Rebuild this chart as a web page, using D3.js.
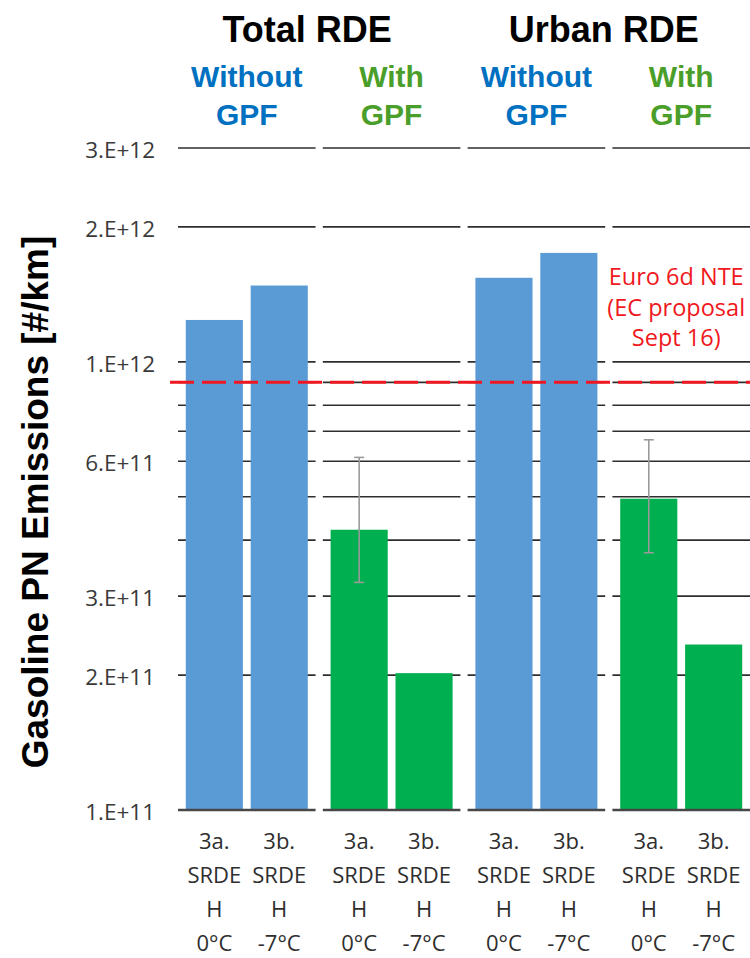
<!DOCTYPE html>
<html>
<head>
<meta charset="utf-8">
<script src="https://cdn.jsdelivr.net/npm/d3@7"></script>
<style>
  html, body { margin: 0; padding: 0; background: #fff; }
  svg { display: block; }
</style>
</head>
<body>
<div id="chart"></div>
<script>
// Gasoline PN emissions on RDE cycles, with and without a GPF
const panels = ["Total RDE|Without GPF", "Total RDE|With GPF", "Urban RDE|Without GPF", "Urban RDE|With GPF"];
const groups = ["Total RDE", "Urban RDE"];
const filterLabels = ["Without GPF", "With GPF", "Without GPF", "With GPF"];
const tests = ["3a", "3b"];
const testLabels = [["3a.", "SRDE", "H", "0°C"], ["3b.", "SRDE", "H", "-7°C"]];

// PN emissions [#/km] per panel, tests 3a and 3b
const totalNoGpf = [1.24e12, 1.48e12];
const totalGpf = [4.22e11, 2.02e11];
const urbanNoGpf = [1.54e12, 1.75e12];
const urbanGpf = [4.95e11, 2.34e11];
const panelValues = [totalNoGpf, totalGpf, urbanNoGpf, urbanGpf];

// Error ranges for test 3a with GPF [low, high]
const totalGpfErr = [3.22e11, 6.12e11];
const urbanGpfErr = [3.75e11, 6.70e11];
const panelErrors = [null, totalGpfErr, null, urbanGpfErr];

// Euro 6d NTE limit (EC proposal Sept 16)
const limitValue = 9e11;
const limitLines = ["Euro 6d NTE", "(EC proposal", "Sept 16)"];

// Axis ticks and gridlines
const tickValues = [1e11, 2e11, 3e11, 6e11, 1e12, 2e12, 3e12];
const tickLabels = ["1.E+11", "2.E+11", "3.E+11", "6.E+11", "1.E+12", "2.E+12", "3.E+12"];
const gridValues = [2e11, 3e11, 4e11, 5e11, 6e11, 7e11, 8e11, 9e11, 1e12, 2e12, 3e12];

const W = 750, H = 958;
const blue = "#5b9bd5", green = "#00b050";
const headBlue = "#0070c0", headGreen = "#4a9e2a";
const red = "#f01820";

const svg = d3.select("#chart").append("svg").attr("width", W).attr("height", H);
svg.append("rect").attr("width", W).attr("height", H).attr("fill", "#fff");

const y = d3.scaleLog().domain([1e11, 3e12]).range([810, 148]);
const xPanel = d3.scaleBand().domain(panels).range([178, 750]).paddingInner(0.05);
const xBar = d3.scaleBand().domain(tests).range([0, xPanel.bandwidth()]).paddingInner(0.12).paddingOuter(0.12);

// Gridlines, drawn separately for each panel
panels.forEach(p => {
  const x0 = xPanel(p), x1 = x0 + xPanel.bandwidth();
  svg.append("g").selectAll("line").data(gridValues).join("line")
    .attr("x1", x0).attr("x2", x1)
    .attr("y1", d => y(d)).attr("y2", d => y(d))
    .attr("stroke", "#2e2e2e").attr("stroke-width", 1.7);
});

// Tick labels via a left axis
const axis = d3.axisLeft(y).tickValues(tickValues)
  .tickFormat((d, i) => tickLabels[i]).tickSize(0).tickPadding(0);
const ag = svg.append("g").attr("transform", "translate(155,0)").call(axis);
ag.select(".domain").remove();
ag.selectAll("text")
  .attr("font-family", "'Open Sans', sans-serif")
  .attr("font-size", 22.5)
  .attr("fill", "#3a3a3a")
  .attr("dy", "0.42em");

// Bars and error bars
panels.forEach((p, pi) => {
  const g = svg.append("g").attr("transform", `translate(${xPanel(p)},0)`);
  const color = pi % 2 === 0 ? blue : green;
  g.selectAll("rect").data(tests).join("rect")
    .attr("x", d => xBar(d))
    .attr("width", xBar.bandwidth())
    .attr("y", (d, i) => y(panelValues[pi][i]))
    .attr("height", (d, i) => y(1e11) - y(panelValues[pi][i]))
    .attr("fill", color);

  const err = panelErrors[pi];
  if (err) {
    const cx = xBar("3a") + xBar.bandwidth() / 2;
    const eg = g.append("g").attr("stroke", "#9a9a9a").attr("stroke-width", 1.6);
    eg.append("line").attr("x1", cx).attr("x2", cx).attr("y1", y(err[0])).attr("y2", y(err[1]));
    err.forEach(v => {
      eg.append("line").attr("x1", cx - 5).attr("x2", cx + 5).attr("y1", y(v)).attr("y2", y(v));
    });
  }

  // Category axis line at the base of each panel
  g.append("line")
    .attr("x1", 0).attr("x2", xPanel.bandwidth())
    .attr("y1", y(1e11)).attr("y2", y(1e11))
    .attr("stroke", "#474747").attr("stroke-width", 2.5);

  // Category labels
  tests.forEach((t, ti) => {
    const cx = xBar(t) + xBar.bandwidth() / 2;
    g.append("g").selectAll("text").data(testLabels[ti]).join("text")
      .attr("x", cx)
      .attr("y", (d, li) => 849 + li * 34)
      .attr("text-anchor", "middle")
      .attr("font-family", "'Open Sans', sans-serif")
      .attr("font-size", 22)
      .attr("fill", "#2e2e2e")
      .text(d => d);
  });

  // Filter headings
  const words = filterLabels[pi].split(" ");
  g.append("g").selectAll("text").data(words).join("text")
    .attr("x", xPanel.bandwidth() / 2)
    .attr("y", (d, i) => 87 + i * 38)
    .attr("text-anchor", "middle")
    .attr("font-family", "'Liberation Sans', Arial, sans-serif")
    .attr("font-weight", "bold")
    .attr("font-size", 30)
    .attr("fill", pi % 2 === 0 ? headBlue : headGreen)
    .text(d => d);
});

// Group headings
const groupShift = [-12, -5];
groups.forEach((grp, gi) => {
  const a = xPanel(panels[gi * 2]), b = xPanel(panels[gi * 2 + 1]) + xPanel.bandwidth();
  svg.append("text")
    .attr("x", (a + b) / 2 + groupShift[gi])
    .attr("y", 42)
    .attr("text-anchor", "middle")
    .attr("font-family", "'Liberation Sans', Arial, sans-serif")
    .attr("font-weight", "bold")
    .attr("font-size", 36)
    .attr("fill", "#000")
    .text(grp);
});

// Limit line
svg.append("line")
  .attr("x1", 170).attr("x2", W)
  .attr("y1", y(limitValue)).attr("y2", y(limitValue))
  .attr("stroke", red).attr("stroke-width", 3)
  .attr("stroke-dasharray", "24,8");

const lastPanel = panels[3];
svg.append("g").selectAll("text").data(limitLines).join("text")
  .attr("x", xPanel(lastPanel) + xPanel.bandwidth() / 2 - 5)
  .attr("y", (d, i) => 285 + i * 30.5)
  .attr("text-anchor", "middle")
  .attr("font-family", "'Open Sans', sans-serif")
  .attr("font-size", 23.5)
  .attr("fill", red)
  .text(d => d);

// Y-axis title
svg.append("text")
  .attr("transform", "translate(48,502) rotate(-90)")
  .attr("text-anchor", "middle")
  .attr("font-family", "'Liberation Sans', Arial, sans-serif")
  .attr("font-weight", "bold")
  .attr("font-size", 37)
  .attr("fill", "#000")
  .text("Gasoline PN Emissions [#/km]");
</script>
</body>
</html>
